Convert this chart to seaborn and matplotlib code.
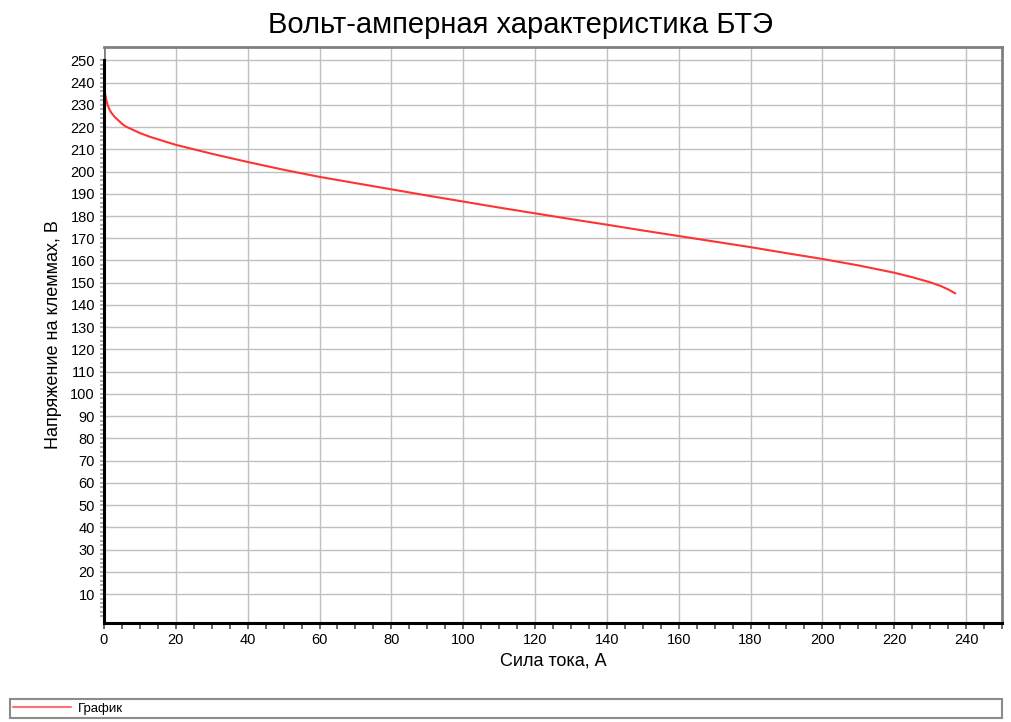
import numpy as np
import pandas as pd
import matplotlib
matplotlib.use('Agg')
import matplotlib.pyplot as plt
import seaborn as sns
from matplotlib.ticker import MultipleLocator, FixedLocator

# Current (A) and terminal voltage (V)
current = [0, 0.3, 0.6, 1, 1.5, 2, 3, 4, 5, 6, 8, 10, 13, 16, 20, 25, 30, 40, 50,
           60, 70, 80, 90, 100, 110, 120, 130, 140, 150, 160, 170, 180, 190, 200,
           210, 220, 225, 230, 233, 235, 237]
voltage = [239, 235, 232.5, 230, 228, 226.5, 224.5, 223, 221.5, 220.3, 218.8, 217.3,
           215.5, 214, 212, 210, 208, 204.3, 200.8, 197.6, 194.8, 192, 189.2, 186.5,
           183.8, 181.2, 178.6, 176.1, 173.5, 171, 168.5, 166, 163.3, 160.7, 157.8,
           154.5, 152.5, 150.2, 148.5, 147, 145.2]

x_ticks = list(range(0, 241, 20))
y_ticks = list(range(10, 251, 10))

df = pd.DataFrame({'I': current, 'U': voltage})

sns.set_theme(style="white")
plt.rcParams['font.family'] = ['Liberation Sans', 'DejaVu Sans']
plt.rcParams['text.color'] = 'black'
plt.rcParams['axes.labelcolor'] = 'black'

fig = plt.figure(figsize=(10.12, 7.22), dpi=100)
ax = fig.add_axes([104 / 1012, 1 - 623 / 722, (1002 - 104) / 1012, (623 - 47) / 722])

sns.lineplot(data=df, x='I', y='U', ax=ax, color='#ff3333', linewidth=1.5,
             label='График', legend=False)

ax.set_xlim(0, 250)
ax.set_ylim(-3, 256)
ax.xaxis.set_major_locator(FixedLocator(x_ticks))
ax.xaxis.set_minor_locator(MultipleLocator(5))
ax.yaxis.set_major_locator(FixedLocator(y_ticks))
ax.yaxis.set_minor_locator(FixedLocator(np.arange(0, 251, 2)))
ax.grid(True, which='major', color='#c0c0c0', linewidth=1)
ax.tick_params(axis='both', which='major', labelsize=10.5, labelcolor='black')
ax.tick_params(axis='x', which='both', direction='out', length=4, width=1.2,
               color='#505050', bottom=True)
ax.tick_params(axis='y', which='both', direction='out', length=3, width=1.2,
               color='#a0a0a0', left=True)

for side in ['top', 'right']:
    ax.spines[side].set_color('#808080')
    ax.spines[side].set_linewidth(2)
ax.spines['left'].set_color('black')
ax.spines['left'].set_linewidth(2.2)
ax.spines['left'].set_bounds(-3, 250)
ax.spines['bottom'].set_color('black')
ax.spines['bottom'].set_linewidth(2.2)
ax.axvline(0, ymin=(250 + 3) / 259, ymax=1, color='#808080', linewidth=2)

# the title is centred on the figure, not on the plot area
fig.suptitle('Вольт-амперная характеристика БТЭ', fontsize=21, color='black',
             x=520 / 1012, y=1 - 25 / 722, va='center')
ax.set_xlabel('Сила тока, А', fontsize=13, labelpad=4)
ax.set_ylabel('Напряжение на клеммах, В', fontsize=13, labelpad=6)

# legend box stretched along the bottom of the figure
handles, labels = ax.get_legend_handles_labels()
leg = fig.legend(handles, labels, loc='lower left',
                 bbox_to_anchor=(10 / 1012, 4 / 722, 992 / 1012, 21 / 722),
                 mode='expand', borderaxespad=0, fontsize=9.5, frameon=True,
                 fancybox=False, handlelength=4.4, handletextpad=0.5,
                 borderpad=0.25)
leg.get_frame().set_edgecolor('#707070')
leg.get_frame().set_linewidth(1.5)
for line in leg.get_lines():
    line.set_color('#ff7070')

fig.savefig('out.png', dpi=100)
